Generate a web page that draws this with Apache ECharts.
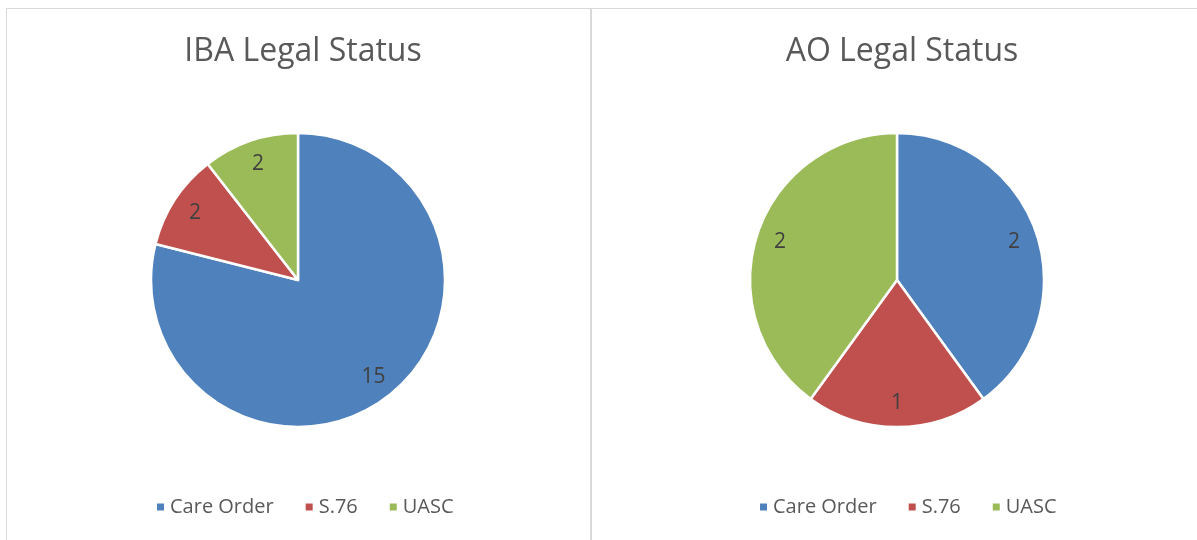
<!DOCTYPE html>
<html>
<head>
<meta charset="utf-8">
<script src="https://cdn.jsdelivr.net/npm/echarts@6/dist/echarts.min.js"></script>
<style>
  html, body { margin: 0; padding: 0; background: #fff; }
  .frame-left {
    position: absolute; left: 6px; top: 8px; width: 583px; height: 540px;
    border-left: 1px solid #d9d9d9; border-top: 1px solid #d9d9d9; border-right: 2px solid #d9d9d9;
  }
  .frame-right {
    position: absolute; left: 592px; top: 8px; width: 605px; height: 540px;
    border-top: 1px solid #d9d9d9;
  }
  #chart { position: absolute; left: 0; top: 0; width: 1197px; height: 540px; }
</style>
</head>
<body>
<div class="frame-left"></div>
<div class="frame-right"></div>
<div id="chart"></div>
<script>
  // data
  const categories = ['Care Order', 'S.76', 'UASC'];
  const ibaValues = [15, 2, 2];
  const aoValues = [2, 1, 2];
  const chartTitles = ['IBA Legal Status', 'AO Legal Status'];

  const colors = ['#4F81BD', '#C0504D', '#9BBB59'];
  const fontFamily = '"Open Sans", "Noto Sans", sans-serif';

  function toPieData(values) {
    return categories.map((name, i) => ({ name: name, value: values[i] }));
  }

  // actual slices
  function slicePie(name, values, centerX) {
    return {
      name: name,
      type: 'pie',
      center: [centerX, 280],
      radius: [0, 147],
      startAngle: 90,
      silent: true,
      label: { show: false },
      labelLine: { show: false },
      itemStyle: { borderColor: '#fff', borderWidth: 2.5 },
      data: toPieData(values)
    };
  }

  // transparent copy, only used to put the value labels further out (like Excel)
  function labelPie(name, values, centerX) {
    return {
      name: name + ' labels',
      type: 'pie',
      center: [centerX, 280],
      radius: [0, 240],
      startAngle: 90,
      silent: true,
      z: 3,
      itemStyle: { color: 'transparent', borderWidth: 0 },
      label: {
        show: true,
        position: 'inside',
        formatter: '{c}',
        color: '#404040',
        fontSize: 21,
        fontFamily: fontFamily
      },
      labelLine: { show: false },
      data: toPieData(values)
    };
  }

  const legendBase = {
    data: categories,
    top: 492,
    icon: 'rect',
    itemWidth: 9,
    itemHeight: 9,
    itemGap: 30,
    selectedMode: false,
    textStyle: { fontSize: 20, color: '#595959', fontFamily: fontFamily }
  };

  const titleStyle = { fontSize: 32, fontWeight: 'normal', color: '#595959', fontFamily: fontFamily };

  const chart = echarts.init(document.getElementById('chart'));
  chart.setOption({
    animation: false,
    color: colors,
    title: [
      { text: chartTitles[0], left: 298, top: 31, textAlign: 'center', textStyle: titleStyle },
      { text: chartTitles[1], left: 897, top: 31, textAlign: 'center', textStyle: titleStyle }
    ],
    legend: [
      Object.assign({}, legendBase, { left: 150 }),
      Object.assign({}, legendBase, { left: 753 })
    ],
    series: [
      slicePie('IBA', ibaValues, 298),
      slicePie('AO', aoValues, 897),
      labelPie('IBA', ibaValues, 298),
      labelPie('AO', aoValues, 897)
    ]
  });
</script>
</body>
</html>
